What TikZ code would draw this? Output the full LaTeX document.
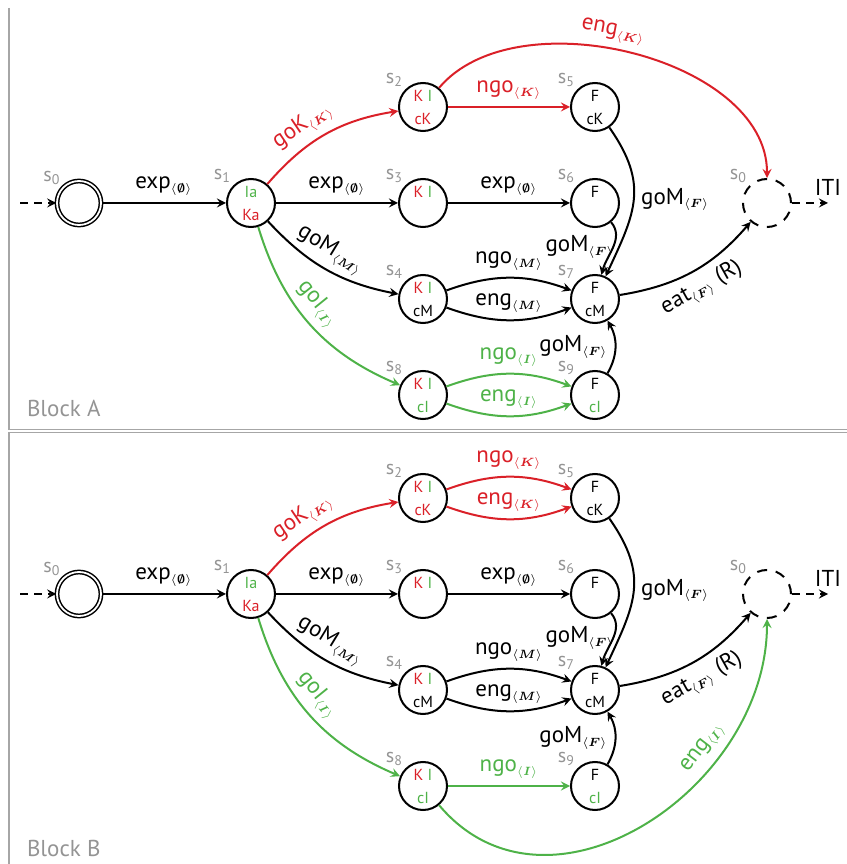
\documentclass[tikz,border=0pt]{standalone}
\usepackage{fontspec}
\setmainfont{PT Sans}
\usepackage{amsmath}
\usetikzlibrary{positioning}
\usetikzlibrary{arrows}

\definecolor{kred}{RGB}{218,32,40}
\definecolor{igreen}{RGB}{78,178,72}
\definecolor{fgray}{gray}{0.58}

\newcommand{\Kc}[1]{\textcolor{kred}{#1}}
\newcommand{\Ic}[1]{\textcolor{igreen}{#1}}
\newcommand{\act}[2]{#1$_{\scriptscriptstyle\langle\boldsymbol{#2}\rangle}$}
\newcommand{\sid}[1]{s\textsubscript{#1}}

\begin{document}
\begin{tikzpicture}
  [x=0.5pt, y=0.5pt, on grid, node distance=48pt and 86pt, >=stealth,
   font=\fontsize{11.5}{13}\selectfont,
   state/.style={circle, draw, line width=1pt, minimum size=24pt, inner sep=0pt,
                 align=center, font=\fontsize{8}{11.5}\selectfont},
   start/.style={state, double, line width=0.75pt, double distance=0.9pt, minimum size=22pt},
   final/.style={state, dash pattern=on 5pt off 4.4pt},
   idx/.style={text=fgray, font=\fontsize{10}{11}\selectfont, inner sep=1pt},
   move/.style={->, line width=1pt},
   frame/.style={black!35, line width=0.7pt}]
  \useasboundingbox (0,0) rectangle (847,864);

  % frames
  \draw[frame] (9,856) -- (9,434.5) -- (847,434.5);
  \draw[frame] (847,431.5) -- (9,431.5) -- (9,0);
  \node[anchor=west, text=fgray] (blocka) at (20,456) {Block A};
  \node[anchor=west, text=fgray] (blockb) at (20,16) {Block B};

  % block A
  \node[start, label={[idx]135:\sid{0}}] (a0) at (79,661) {};
  \node[state, label={[idx]135:\sid{1}}] (a1) [right=of a0] {\Ic{Ia}\\\Kc{Ka}};
  \node[state, label={[idx]135:\sid{3}}] (a3) [right=of a1] {\Kc{K} \Ic{I}\\~};
  \node[state, label={[idx]135:\sid{2}}] (a2) [above=of a3] {\Kc{K} \Ic{I}\\\Kc{cK}};
  \node[state, label={[idx]135:\sid{4}}] (a4) [below=of a3] {\Kc{K} \Ic{I}\\cM};
  \node[state, label={[idx]135:\sid{8}}] (a8) [below=of a4] {\Kc{K} \Ic{I}\\\Ic{cI}};
  \node[state, label={[idx]135:\sid{5}}] (a5) [right=of a2] {F\\cK};
  \node[state, label={[idx]135:\sid{6}}] (a6) [right=of a3] {F\\~};
  \node[state, label={[idx]135:\sid{7}}] (a7) [right=of a4] {F\\cM};
  \node[state, label={[idx]135:\sid{9}}] (a9) [right=of a8] {F\\\Ic{cI}};
  \node[final, label={[idx]135:\sid{0}}] (af) [right=of a6] {};
  \coordinate[left=18pt of a0.west] (ain);
  \coordinate[right=18pt of af.east] (aout);

  \draw[move, dash pattern=on 4pt off 3pt] (ain) -- (a0);
  \draw[move] (a0) -- node[above] {\act{exp}{\emptyset}} (a1);
  \draw[move, kred] (a1) to[bend left=20] node[sloped, above, pos=0.4] {\act{goK}{K}} (a2);
  \draw[move] (a1) -- node[above] {\act{exp}{\emptyset}} (a3);
  \draw[move] (a1) to[bend right=18] node[sloped, above, pos=0.45] {\act{goM}{M}} (a4);
  \draw[move, igreen] (a1) to[bend right=25] node[sloped, above, pos=0.45] {\act{goI}{I}} (a8);
  \draw[move, kred] (a2) -- node[above] {\act{ngo}{K}} (a5);
  \draw[move, kred] (a2) to[out=50, in=90, looseness=0.9] node[sloped, above, pos=0.45] {\act{eng}{K}} (af);
  \draw[move] (a3) -- node[above] {\act{exp}{\emptyset}} (a6);
  \draw[move] (a5) to[out=-55, in=65, looseness=1.2] node[right] {\act{goM}{F}} (a7);
  \draw[move] (a6) to[out=-50, in=75] node[left, pos=0.5, xshift=4pt] {\act{goM}{F}} (a7);
  \draw[move] (a4) to[bend left=20] node[above] {\act{ngo}{M}} (a7);
  \draw[move] (a4) to[bend right=20] node[above] {\act{eng}{M}} (a7);
  \draw[move, igreen] (a8) to[bend left=20] node[above] {\act{ngo}{I}} (a9);
  \draw[move, igreen] (a8) to[bend right=20] node[above] {\act{eng}{I}} (a9);
  \draw[move] (a9) to[out=60, in=-60] node[left] {\act{goM}{F}} (a7);
  \draw[move] (a7) to[bend right=20] node[sloped, below] {\act{eat}{F} (R)} (af);
  \draw[move, dash pattern=on 4pt off 3pt] (af) -- (aout) node[above] {ITI};

  % block B
  \node[start, label={[idx]135:\sid{0}}] (b0) at (79,270) {};
  \node[state, label={[idx]135:\sid{1}}] (b1) [right=of b0] {\Ic{Ia}\\\Kc{Ka}};
  \node[state, label={[idx]135:\sid{3}}] (b3) [right=of b1] {\Kc{K} \Ic{I}\\~};
  \node[state, label={[idx]135:\sid{2}}] (b2) [above=of b3] {\Kc{K} \Ic{I}\\\Kc{cK}};
  \node[state, label={[idx]135:\sid{4}}] (b4) [below=of b3] {\Kc{K} \Ic{I}\\cM};
  \node[state, label={[idx]135:\sid{8}}] (b8) [below=of b4] {\Kc{K} \Ic{I}\\\Ic{cI}};
  \node[state, label={[idx]135:\sid{5}}] (b5) [right=of b2] {F\\cK};
  \node[state, label={[idx]135:\sid{6}}] (b6) [right=of b3] {F\\~};
  \node[state, label={[idx]135:\sid{7}}] (b7) [right=of b4] {F\\cM};
  \node[state, label={[idx]135:\sid{9}}] (b9) [right=of b8] {F\\\Ic{cI}};
  \node[final, label={[idx]135:\sid{0}}] (bf) [right=of b6] {};
  \coordinate[left=18pt of b0.west] (bin);
  \coordinate[right=18pt of bf.east] (bout);

  \draw[move, dash pattern=on 4pt off 3pt] (bin) -- (b0);
  \draw[move] (b0) -- node[above] {\act{exp}{\emptyset}} (b1);
  \draw[move, kred] (b1) to[bend left=20] node[sloped, above, pos=0.4] {\act{goK}{K}} (b2);
  \draw[move] (b1) -- node[above] {\act{exp}{\emptyset}} (b3);
  \draw[move] (b1) to[bend right=18] node[sloped, above, pos=0.45] {\act{goM}{M}} (b4);
  \draw[move, igreen] (b1) to[bend right=25] node[sloped, above, pos=0.45] {\act{goI}{I}} (b8);
  \draw[move, kred] (b2) to[bend left=20] node[above] {\act{ngo}{K}} (b5);
  \draw[move, kred] (b2) to[bend right=20] node[above] {\act{eng}{K}} (b5);
  \draw[move] (b3) -- node[above] {\act{exp}{\emptyset}} (b6);
  \draw[move] (b5) to[out=-55, in=65, looseness=1.2] node[right] {\act{goM}{F}} (b7);
  \draw[move] (b6) to[out=-50, in=75] node[left, pos=0.5, xshift=4pt] {\act{goM}{F}} (b7);
  \draw[move] (b4) to[bend left=20] node[above] {\act{ngo}{M}} (b7);
  \draw[move] (b4) to[bend right=20] node[above] {\act{eng}{M}} (b7);
  \draw[move, igreen] (b8) -- node[above] {\act{ngo}{I}} (b9);
  \draw[move, igreen] (b8) to[out=-50, in=-90, looseness=1.15] node[sloped, above, pos=0.7] {\act{eng}{I}} (bf);
  \draw[move] (b9) to[out=60, in=-60] node[left] {\act{goM}{F}} (b7);
  \draw[move] (b7) to[bend right=20] node[sloped, below] {\act{eat}{F} (R)} (bf);
  \draw[move, dash pattern=on 4pt off 3pt] (bf) -- (bout) node[above] {ITI};
\end{tikzpicture}
\end{document}
